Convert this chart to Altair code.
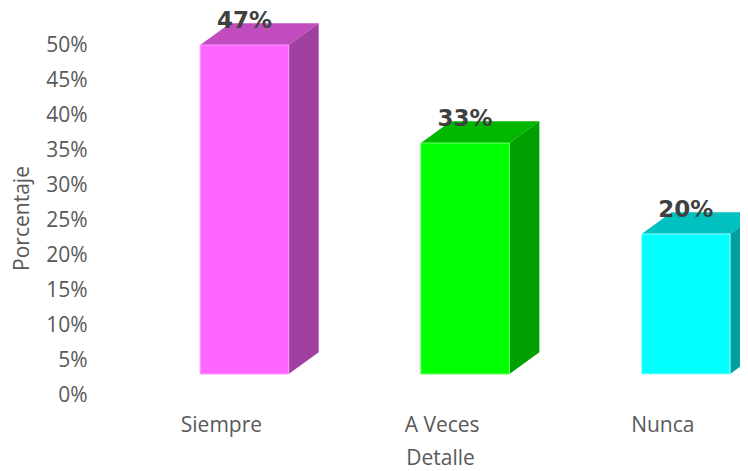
import json
import altair as alt
import pandas as pd

# ---- data ----
categorias = ["Siempre", "A Veces", "Nunca"]
porcentajes = [0.47, 0.33, 0.20]
etiquetas_y = [0, 0.05, 0.10, 0.15, 0.20, 0.25, 0.30, 0.35, 0.40, 0.45, 0.50]

# ---- styles ----
color_frente = ["#FF66FF", "#00FF00", "#00FFFF"]
borde_frente = ["#FF99FF", "#66FF66", "#99FFFF"]
color_arriba = ["#C04CC0", "#00B800", "#00C0C0"]
color_lado = ["#A040A0", "#00A000", "#00A0A0"]

# 3D geometry (in scale units)
PISO = 0.03     # floor offset of the front face
PROF_Y = 0.031  # vertical depth
PROF_X = 0.136  # horizontal depth
IZQ, DER = -0.094, 0.307  # front face edges relative to the category position

front_rows, side_rows, top_rows, text_rows = [], [], [], []
for i, (cat, v) in enumerate(zip(categorias, porcentajes)):
    front_rows.append({"cat": cat, "x": i + IZQ, "x2": i + DER,
                       "y": PISO, "y2": v + PISO, "c": color_frente[i], "b": borde_frente[i]})
    side_rows.append({"cat": cat, "x": i + DER, "y": v + PISO, "y2": PISO, "c": color_lado[i]})
    side_rows.append({"cat": cat, "x": i + DER + PROF_X, "y": v + PISO + PROF_Y,
                      "y2": PISO + PROF_Y, "c": color_lado[i]})
    top_rows.append({"cat": cat, "y": v + PISO, "x": i + IZQ, "x2": i + DER, "c": color_arriba[i]})
    top_rows.append({"cat": cat, "y": v + PISO + PROF_Y, "x": i + IZQ + PROF_X,
                     "x2": i + DER + PROF_X, "c": color_arriba[i]})
    text_rows.append({"cat": cat, "x": i + (IZQ + DER) / 2, "y": v + PISO + PROF_Y,
                      "t": f"{round(v * 100)}%"})

df_front = pd.DataFrame(front_rows)
df_side = pd.DataFrame(side_rows)
df_top = pd.DataFrame(top_rows)
df_text = pd.DataFrame(text_rows)

FONT = "Open Sans"
GRIS = "#595959"

xscale = alt.Scale(domain=[-0.548, 2.352], nice=False, zero=False)
yscale = alt.Scale(domain=[0, 0.5], nice=False, zero=True)

label_expr = json.dumps(categorias) + "[datum.value]"
xaxis = alt.Axis(values=[0, 1, 2], labelExpr=label_expr, domain=False, ticks=False, grid=False,
                 labelFont=FONT, labelFontSize=21, labelColor=GRIS, labelPadding=19,
                 labelAlign="center",
                 title="Detalle", titleFont=FONT, titleFontSize=21, titleColor=GRIS,
                 titleFontWeight="normal", titleX=340, titleY=63, titleBaseline="middle",
                 titleAlign="center")
yaxis = alt.Axis(values=etiquetas_y, format=".0%", domain=False, ticks=False, grid=False,
                 labelFont=FONT, labelFontSize=21, labelColor=GRIS, labelPadding=13,
                 title="Porcentaje", titleFont=FONT, titleFontSize=21, titleColor=GRIS,
                 titleFontWeight="normal", titleX=-78, titleY=173, titleBaseline="middle",
                 titleAlign="center", titleAngle=270)


def X(field="x"):
    return alt.X(f"{field}:Q", scale=xscale, axis=xaxis, title="Detalle")


def Y(field="y"):
    return alt.Y(f"{field}:Q", scale=yscale, axis=yaxis, title="Porcentaje")


top = alt.Chart(df_top).mark_area(orient="horizontal").encode(
    y=Y(), x=X(), x2="x2:Q", detail="cat:N",
    fill=alt.Fill("c:N", scale=None))

side = alt.Chart(df_side).mark_area().encode(
    x=X(), y=Y(), y2="y2:Q", detail="cat:N",
    fill=alt.Fill("c:N", scale=None))

front = alt.Chart(df_front).mark_rect(strokeWidth=1).encode(
    x=X(), x2="x2:Q", y=Y(), y2="y2:Q",
    fill=alt.Fill("c:N", scale=None),
    stroke=alt.Stroke("b:N", scale=None))

texto = alt.Chart(df_text).mark_text(
    font="DejaVu Sans", fontWeight="bold", fontSize=23, color="#404040",
    baseline="middle", align="center", dy=-2).encode(
    x=X(), y=Y(), text="t:N")

chart = alt.layer(top, side, front, texto).properties(
    width=640, height=350,
    autosize=alt.AutoSizeParams(type="none"),
    padding={"left": 92, "top": 37, "right": 0, "bottom": 76},
).configure_view(stroke=None)

chart.save("out.html", embed_options={"renderer": "svg", "actions": False})
